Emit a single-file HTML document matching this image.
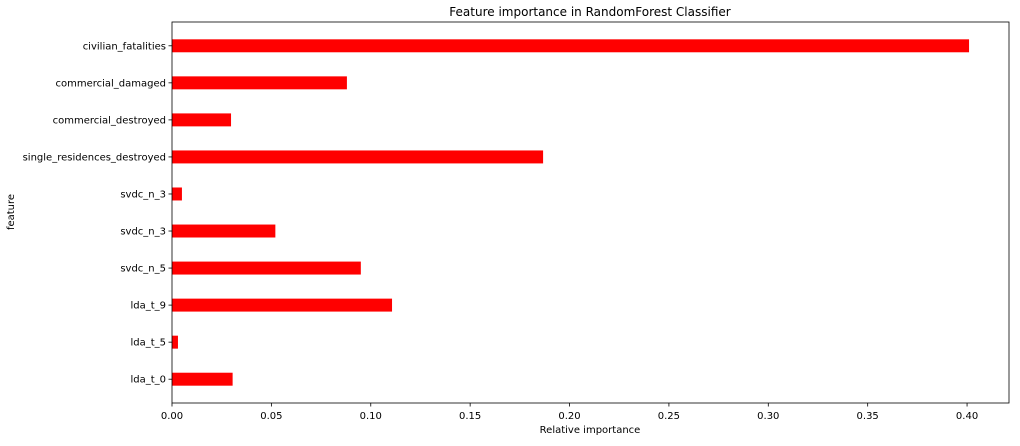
<!DOCTYPE html>
<html><head><meta charset="utf-8"><style>
body{margin:0;background:#fff;}
svg text{font-family:"DejaVu Sans","Liberation Sans",sans-serif;fill:#000;}
</style></head><body>
<svg id="chart" width="1020" height="441">
<text x="590" y="16" font-size="12" text-anchor="middle">Feature importance in RandomForest Classifier</text>
<g id="bars"></g>
<g id="axes"></g>
<text x="590" y="433" font-size="10" text-anchor="middle">Relative importance</text>
<text transform="translate(14,212) rotate(-90)" font-size="10" text-anchor="middle">feature</text>
</svg>
<script>
const categories=["civilian_fatalities","commercial_damaged","commercial_destroyed","single_residences_destroyed","svdc_n_3","svdc_n_3","svdc_n_5","lda_t_9","lda_t_5","lda_t_0"];
const values=[0.401,0.088,0.0297,0.1867,0.005,0.052,0.095,0.1107,0.003,0.0305];
const xTicks=[0,0.05,0.1,0.15,0.2,0.25,0.3,0.35,0.4];
const xTickLabels=["0.00","0.05","0.10","0.15","0.20","0.25","0.30","0.35","0.40"];
const L=172,R=1009,T=22,B=403,XMAX=0.4211;
const x=v=>L+v/XMAX*(R-L);
const n=categories.length,lo=-0.6425,hi=n-1+0.6425;
const y=i=>T+(i-lo)/(hi-lo)*(B-T);
const bh=0.35*(B-T)/(hi-lo);
const ns="http://www.w3.org/2000/svg";
const bars=document.getElementById('bars'),ax=document.getElementById('axes');
function mk(tag,attrs,parent){const e=document.createElementNS(ns,tag);for(const k in attrs)e.setAttribute(k,attrs[k]);parent.appendChild(e);return e;}
categories.forEach((c,i)=>{
 const r=mk('rect',{x:L,y:y(i)-bh/2,width:x(values[i])-L,height:bh,fill:'#ff0000'},bars);
 
 
 mk('line',{x1:L-3.5,x2:L,y1:y(i),y2:y(i),stroke:'#000','stroke-width':0.8},ax);
 const t=mk('text',{x:L-6,y:y(i)+3.5,'font-size':10,'text-anchor':'end'},ax);
 t.textContent=c;
 
 
});
xTicks.forEach((v,i)=>{
 mk('line',{x1:x(v),x2:x(v),y1:B,y2:B+3.5,stroke:'#000','stroke-width':0.8},ax);
 const t=mk('text',{x:x(v),y:B+16,'font-size':10,'text-anchor':'middle'},ax);
 t.textContent=xTickLabels[i];
 
 
});
const f=mk('rect',{x:L,y:T,width:R-L,height:B-T,fill:'none',stroke:'#000','stroke-width':0.8},ax);


</script>
</body></html>
